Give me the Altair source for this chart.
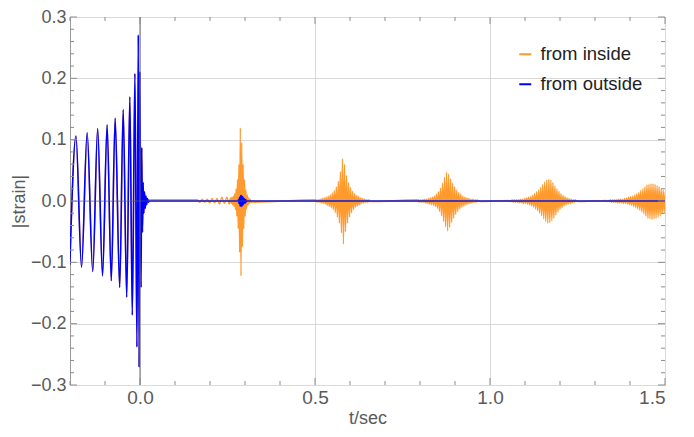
import altair as alt
import pandas as pd

# ---------------- data ----------------
# inspiral (shared by both signals): successive extrema
chirp_t = [-0.2005, -0.183, -0.167, -0.151, -0.135, -0.121, -0.107, -0.094, -0.082, -0.071,
           -0.058, -0.048, -0.038, -0.029, -0.022, -0.0145, -0.0088, -0.0048, -0.0025]
chirp_h = [-0.104, 0.106, -0.108, 0.111, -0.115, 0.118, -0.122, 0.124, -0.130, 0.135,
           -0.141, 0.149, -0.157, 0.170, -0.186, 0.208, -0.238, 0.271, -0.271]

# ring-down after merger ("from outside")
ring_t = [-0.0005, 0.003, 0.005, 0.007, 0.009, 0.011, 0.013, 0.015, 0.017, 0.019, 0.021, 0.024, 0.027, 0.280]
ring_h = [0.211, -0.141, 0.087, -0.051, 0.030, -0.020, 0.015, -0.012, 0.008, -0.006, 0.004, -0.002, 0.0, 0.0]

# tiny blue blob at the first echo
blob_t = [0.2815, 0.283, 0.2845, 0.286, 0.2875, 0.289, 0.2905, 0.292, 0.2935, 0.295, 0.2965, 0.298, 0.2995, 0.301, 0.3025, 0.304, 0.306, 0.310, 1.55]
blob_h = [0.002, -0.004, 0.006, -0.008, 0.009, -0.009, 0.009, -0.008, 0.007, -0.006, 0.005, -0.004, 0.003, -0.003, 0.002, -0.001, 0.0, 0.0, 0.0]

# ring-down of the "from inside" signal
ring_in_t = [-0.0005, 0.003, 0.005, 0.007, 0.009, 0.011, 0.013, 0.016, 0.020]
ring_in_h = [0.211, -0.141, 0.087, -0.051, 0.030, -0.020, 0.012, -0.006, 0.002]

# small precursor wiggles before the first echo
pre_t = [0.164, 0.171, 0.178, 0.185, 0.192, 0.199, 0.206, 0.213, 0.220, 0.227, 0.234, 0.241, 0.248, 0.255]
pre_h = [0.002, -0.002, 0.003, -0.002, 0.003, -0.003, 0.004, -0.003, 0.004, -0.005, 0.006, -0.004, 0.006, -0.005]

# echoes: start time, spacing of peaks, positive peaks, negative peaks
echo_start = [0.2586, 0.503, 0.7948, 1.052, 1.3324]
echo_step = [0.004, 0.0058, 0.0058, 0.0058, 0.0058]
echo_up = [
    [0.005, 0.006, 0.008, 0.012, 0.020, 0.035, 0.060, 0.119, 0.095, 0.060, 0.035, 0.018, 0.010, 0.005, 0.003],
    [0.002, 0.002, 0.003, 0.004, 0.005, 0.006, 0.008, 0.010, 0.013, 0.017, 0.023, 0.032, 0.048, 0.069, 0.060,
     0.042, 0.030, 0.022, 0.016, 0.012, 0.009, 0.007, 0.005, 0.004, 0.003, 0.002, 0.002],
    [0.002, 0.002, 0.002, 0.003, 0.003, 0.004, 0.005, 0.006, 0.008, 0.011, 0.015, 0.021, 0.029, 0.039, 0.047,
     0.044, 0.036, 0.029, 0.023, 0.018, 0.014, 0.011, 0.008, 0.006, 0.005, 0.004, 0.003, 0.003, 0.002, 0.002, 0.001],
    [0.001, 0.001, 0.002, 0.002, 0.002, 0.002, 0.003, 0.003, 0.004, 0.005, 0.006, 0.007, 0.009, 0.012, 0.015,
     0.018, 0.022, 0.027, 0.031, 0.034, 0.035, 0.034, 0.030, 0.025, 0.020, 0.016, 0.012, 0.009, 0.007, 0.005,
     0.004, 0.003, 0.002, 0.002, 0.001],
    [0.001, 0.001, 0.002, 0.002, 0.002, 0.002, 0.003, 0.003, 0.003, 0.004, 0.005, 0.006, 0.007, 0.008, 0.010,
     0.012, 0.014, 0.017, 0.020, 0.023, 0.026, 0.027, 0.028, 0.028, 0.027, 0.025, 0.023, 0.020, 0.018, 0.015, 0.013],
]
echo_dn = [
    [-0.004, -0.006, -0.009, -0.014, -0.025, -0.045, -0.084, -0.122, -0.075, -0.045, -0.025, -0.013, -0.007, -0.004, -0.002],
    [-0.002, -0.002, -0.003, -0.004, -0.005, -0.007, -0.009, -0.011, -0.014, -0.019, -0.026, -0.036, -0.052, -0.070, -0.050,
     -0.036, -0.026, -0.019, -0.014, -0.010, -0.008, -0.006, -0.004, -0.003, -0.002, -0.002, -0.001],
    [-0.002, -0.002, -0.002, -0.003, -0.004, -0.005, -0.006, -0.007, -0.009, -0.012, -0.017, -0.024, -0.033, -0.042, -0.049,
     -0.043, -0.035, -0.028, -0.022, -0.017, -0.013, -0.010, -0.008, -0.006, -0.005, -0.004, -0.003, -0.002, -0.002, -0.001, -0.001],
    [-0.001, -0.001, -0.002, -0.002, -0.002, -0.003, -0.003, -0.004, -0.004, -0.005, -0.006, -0.008, -0.010, -0.013, -0.016,
     -0.020, -0.024, -0.029, -0.033, -0.036, -0.035, -0.032, -0.028, -0.023, -0.018, -0.014, -0.011, -0.008, -0.006, -0.005,
     -0.004, -0.003, -0.002, -0.001, -0.001],
    [-0.001, -0.001, -0.002, -0.002, -0.002, -0.003, -0.003, -0.003, -0.004, -0.004, -0.005, -0.006, -0.007, -0.009, -0.011,
     -0.013, -0.015, -0.018, -0.021, -0.025, -0.028, -0.029, -0.030, -0.029, -0.028, -0.026, -0.024, -0.021, -0.019, -0.016, -0.014],
]

series_names = ["from inside", "from outside"]
series_colors = ["#ff9a2e", "#0000ff"]

x_major = [0.0, 0.5, 1.0, 1.5]
x_minor = [-0.2, -0.1, 0.1, 0.2, 0.3, 0.4, 0.6, 0.7, 0.8, 0.9, 1.1, 1.2, 1.3, 1.4]
y_major = [-0.3, -0.2, -0.1, 0.0, 0.1, 0.2, 0.3]
y_minor = [-0.28, -0.26, -0.24, -0.22, -0.18, -0.16, -0.14, -0.12, -0.08, -0.06, -0.04, -0.02,
           0.02, 0.04, 0.06, 0.08, 0.12, 0.14, 0.16, 0.18, 0.22, 0.24, 0.26, 0.28]

# ---------------- tables ----------------
rows_in = list(zip(chirp_t, chirp_h)) + list(zip(ring_in_t, ring_in_h)) + list(zip(pre_t, pre_h))
for s, st, ups, dns in zip(echo_start, echo_step, echo_up, echo_dn):
    for i, (u, d) in enumerate(zip(ups, dns)):
        rows_in.append((s + i * st, u))
        rows_in.append((s + i * st + st / 2, d))
rows_in.append((1.55, 0.0))
df_in = pd.DataFrame(rows_in, columns=["t", "h"]).sort_values("t")
df_in["series"] = series_names[0]

rows_out = list(zip(chirp_t, chirp_h)) + list(zip(ring_t, ring_h)) + list(zip(blob_t, blob_h))
df_out = pd.DataFrame(rows_out, columns=["t", "h"]).sort_values("t")
df_out["series"] = series_names[1]

W, H = 595, 368
FONT = "Liberation Sans"
LABEL = "#5a5a5a"
TICK = "#8c8c8c"

xs = alt.Scale(domain=[-0.2, 1.5], nice=False, zero=False)
ys = alt.Scale(domain=[-0.3, 0.3], nice=False, zero=False)
cs = alt.Scale(domain=series_names, range=series_colors)

# the same axis objects are given to every layer so that they merge cleanly
x_axis = alt.Axis(values=x_major, format=".1f", title="t/sec", grid=True, ticks=False,
                  domain=False, labelPadding=3, titlePadding=2, labelFontSize=19, titleFontSize=18,
                  labelColor=LABEL, titleColor=LABEL, titleFontWeight="normal", labelFont=FONT,
                  titleFont=FONT, gridColor="#d9d9d9")
y_axis = alt.Axis(values=y_major, format=".1f", title="|strain|", grid=True, ticks=False,
                  domain=False, labelPadding=4, titlePadding=2, labelFontSize=18, titleFontSize=18,
                  labelColor=LABEL, titleColor=LABEL, titleFontWeight="normal", labelFont=FONT,
                  titleFont=FONT, gridColor="#d9d9d9")

legend = alt.Legend(title=None, orient="none", legendX=446, legendY=28, symbolType="stroke",
                    symbolSize=144, symbolStrokeWidth=2, labelFontSize=18.5, labelFont=FONT,
                    labelColor="#222222", rowPadding=11, labelOffset=6)

inside = alt.Chart(df_in).mark_line(strokeWidth=1.4, clip=True, interpolate="monotone").encode(
    x=alt.X("t:Q", scale=xs, axis=x_axis),
    y=alt.Y("h:Q", scale=ys, axis=y_axis),
    color=alt.Color("series:N", scale=cs, legend=legend),
)
outside = alt.Chart(df_out).mark_line(strokeWidth=1.6, clip=True, interpolate="monotone").encode(
    x=alt.X("t:Q", scale=xs, axis=x_axis),
    y=alt.Y("h:Q", scale=ys, axis=y_axis),
    color=alt.Color("series:N", scale=cs, legend=legend),
)

zero_x = alt.Chart().mark_rule(color="#6a6a6a", strokeWidth=1).encode(
    x=alt.datum(0, scale=xs, axis=x_axis))
zero_y = alt.Chart().mark_rule(color="#666666", strokeWidth=1, opacity=0.6).encode(
    y=alt.datum(0, scale=ys, axis=y_axis))


def yticks(vals, length):
    d = pd.DataFrame({"v": vals})
    left = alt.Chart(d).mark_rule(color=TICK, strokeWidth=1).encode(
        y=alt.Y("v:Q", scale=ys, axis=y_axis), x=alt.value(0), x2=alt.value(length))
    right = alt.Chart(d).mark_rule(color=TICK, strokeWidth=1).encode(
        y=alt.Y("v:Q", scale=ys, axis=y_axis), x=alt.value(W), x2=alt.value(W - length))
    return [left, right]


def xticks(vals, length):
    d = pd.DataFrame({"v": vals})
    bottom = alt.Chart(d).mark_rule(color=TICK, strokeWidth=1).encode(
        x=alt.X("v:Q", scale=xs, axis=x_axis), y=alt.value(H), y2=alt.value(H - length))
    top = alt.Chart(d).mark_rule(color=TICK, strokeWidth=1).encode(
        x=alt.X("v:Q", scale=xs, axis=x_axis), y=alt.value(0), y2=alt.value(length))
    return [bottom, top]


layers = [inside, outside, zero_x, zero_y] + yticks(y_major, 7) + yticks(y_minor, 4) \
    + xticks(x_major, 7) + xticks(x_minor, 4)

chart = alt.layer(*layers).properties(
    width=W, height=H,
    autosize=alt.AutoSizeParams(type="none"),
    padding={"left": 62, "top": 9, "right": 18, "bottom": 44},
).configure_view(stroke="#9a9a9a", strokeWidth=1)

chart.save("out.html", embed_options={"renderer": "svg", "actions": False})
